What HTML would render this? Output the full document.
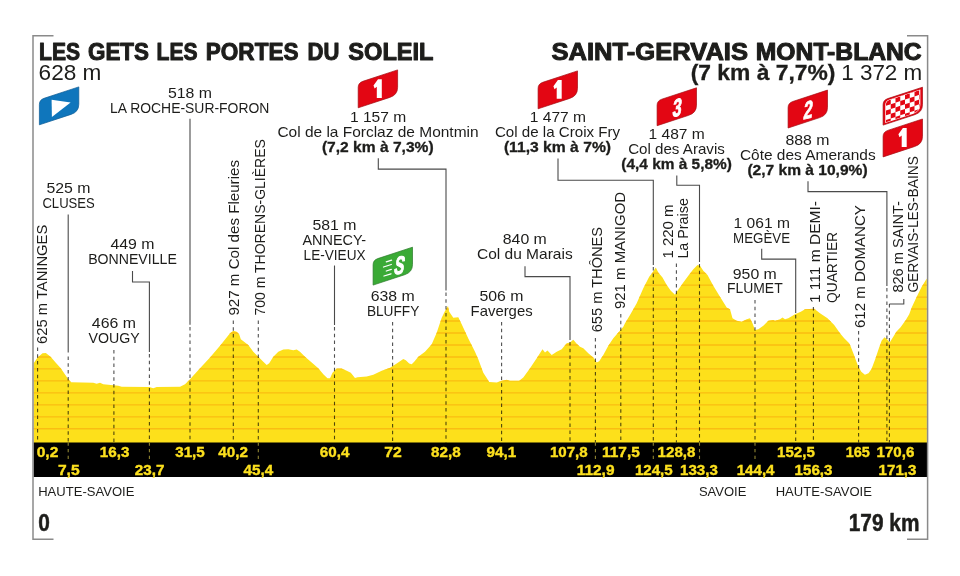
<!DOCTYPE html>
<html><head><meta charset="utf-8"><title>Stage profile</title>
<style>html,body{margin:0;padding:0;background:#fff}svg{display:block}text{font-family:"Liberation Sans",sans-serif;fill:#1d1d1b}.b{font-weight:bold;stroke:#1d1d1b;stroke-width:0.3}.xb{font-weight:bold;stroke:#1d1d1b;stroke-width:1.0;stroke-linejoin:round}.km{font-weight:bold;fill:#fce01e;font-size:14.5px;stroke:#fce01e;stroke-width:0.35}.l{stroke:#4a4a4a;stroke-width:1.1;fill:none}.d{stroke:#505050;stroke-width:1.1;fill:none;stroke-dasharray:3.5 3.3;mix-blend-mode:multiply}</style></head><body>
<svg width="960" height="576" viewBox="0 0 960 576">
<rect width="960" height="576" fill="#fff"/>
<defs><clipPath id="cp"><polygon points="33.7,363.3 37.5,357.5 42.5,353.3 45.8,353.0 50.0,356.2 51.7,357.9 56.0,363.0 60.8,368.3 64.5,373.7 68.3,379.2 71.2,382.3 93.3,382.7 96.7,383.7 100.0,382.7 103.3,384.2 113.3,385.3 118.3,385.8 121.7,386.7 149.2,387.0 153.3,388.3 156.7,387.0 180.0,386.7 185.0,384.2 190.0,379.2 200.0,368.3 210.0,357.5 220.0,345.8 230.0,333.3 233.3,330.8 236.7,331.7 239.2,334.2 240.8,339.2 248.3,345.0 253.3,351.7 258.3,356.7 263.3,361.7 266.7,365.0 269.2,363.3 273.3,356.7 278.3,351.7 283.3,349.5 288.3,349.2 293.3,350.3 296.7,349.5 300.0,351.7 305.0,356.7 311.7,362.5 318.3,368.3 323.3,374.2 327.5,378.3 330.0,378.3 332.5,372.7 336.7,368.5 341.7,368.5 346.7,370.7 350.8,372.7 355.0,378.0 357.5,377.2 366.7,376.5 373.3,374.7 381.7,370.7 390.0,367.7 396.7,363.5 403.3,359.0 405.8,360.2 409.2,363.5 411.7,364.3 414.2,361.8 418.3,356.8 425.0,351.8 431.7,344.3 436.7,332.7 441.7,317.7 445.0,311.0 448.0,306.0 449.2,311.8 453.3,317.7 458.3,317.3 461.7,324.3 468.3,338.5 475.0,351.8 478.3,359.3 483.3,372.7 487.5,379.3 489.2,382.0 496.7,382.5 501.7,380.8 506.7,379.7 510.0,380.8 519.2,380.8 523.3,377.5 530.0,368.3 536.7,358.3 542.5,349.2 545.0,352.5 547.5,350.5 551.7,355.0 556.7,351.7 561.7,349.2 566.7,343.3 570.0,342.5 573.3,339.7 576.7,343.7 580.0,346.7 583.3,348.3 588.3,353.3 593.3,357.5 596.7,362.5 599.2,361.3 603.3,355.0 608.3,345.8 613.3,338.3 618.3,332.5 623.3,326.7 625.0,323.3 630.0,315.0 636.7,303.3 643.3,288.3 649.2,276.7 652.5,272.5 655.8,267.5 658.3,272.5 662.5,277.5 666.7,285.0 670.8,290.8 675.0,294.7 677.5,290.8 683.3,282.5 688.3,275.8 693.3,269.2 697.5,265.0 700.0,265.8 703.3,270.8 707.5,275.0 713.3,285.8 720.0,296.7 726.7,307.5 730.0,309.2 732.5,318.3 736.7,320.8 741.7,321.7 746.7,319.2 750.0,318.3 752.5,323.3 755.0,330.0 758.3,329.2 763.3,325.8 768.3,320.8 773.3,320.0 775.0,320.8 780.0,319.2 782.5,317.5 785.0,319.2 788.3,318.3 795.0,314.2 800.8,311.7 805.0,309.2 814.2,308.8 820.0,313.3 827.5,318.3 834.2,325.0 840.0,333.3 844.2,338.3 849.2,343.3 850.3,345.5 854.0,355.0 858.3,366.7 861.3,371.8 864.9,374.7 868.5,373.2 871.5,368.9 875.1,359.4 878.8,348.4 881.7,340.4 884.6,337.2 887.5,339.7 889.7,342.6 893.3,336.8 896.3,331.7 900.6,327.3 905.8,320.0 909.2,314.2 911.7,307.5 916.7,296.7 921.7,286.7 926.8,278.5 926.9,443.5 33.7,443.5"/></clipPath></defs>
<polygon points="33.7,363.3 37.5,357.5 42.5,353.3 45.8,353.0 50.0,356.2 51.7,357.9 56.0,363.0 60.8,368.3 64.5,373.7 68.3,379.2 71.2,382.3 93.3,382.7 96.7,383.7 100.0,382.7 103.3,384.2 113.3,385.3 118.3,385.8 121.7,386.7 149.2,387.0 153.3,388.3 156.7,387.0 180.0,386.7 185.0,384.2 190.0,379.2 200.0,368.3 210.0,357.5 220.0,345.8 230.0,333.3 233.3,330.8 236.7,331.7 239.2,334.2 240.8,339.2 248.3,345.0 253.3,351.7 258.3,356.7 263.3,361.7 266.7,365.0 269.2,363.3 273.3,356.7 278.3,351.7 283.3,349.5 288.3,349.2 293.3,350.3 296.7,349.5 300.0,351.7 305.0,356.7 311.7,362.5 318.3,368.3 323.3,374.2 327.5,378.3 330.0,378.3 332.5,372.7 336.7,368.5 341.7,368.5 346.7,370.7 350.8,372.7 355.0,378.0 357.5,377.2 366.7,376.5 373.3,374.7 381.7,370.7 390.0,367.7 396.7,363.5 403.3,359.0 405.8,360.2 409.2,363.5 411.7,364.3 414.2,361.8 418.3,356.8 425.0,351.8 431.7,344.3 436.7,332.7 441.7,317.7 445.0,311.0 448.0,306.0 449.2,311.8 453.3,317.7 458.3,317.3 461.7,324.3 468.3,338.5 475.0,351.8 478.3,359.3 483.3,372.7 487.5,379.3 489.2,382.0 496.7,382.5 501.7,380.8 506.7,379.7 510.0,380.8 519.2,380.8 523.3,377.5 530.0,368.3 536.7,358.3 542.5,349.2 545.0,352.5 547.5,350.5 551.7,355.0 556.7,351.7 561.7,349.2 566.7,343.3 570.0,342.5 573.3,339.7 576.7,343.7 580.0,346.7 583.3,348.3 588.3,353.3 593.3,357.5 596.7,362.5 599.2,361.3 603.3,355.0 608.3,345.8 613.3,338.3 618.3,332.5 623.3,326.7 625.0,323.3 630.0,315.0 636.7,303.3 643.3,288.3 649.2,276.7 652.5,272.5 655.8,267.5 658.3,272.5 662.5,277.5 666.7,285.0 670.8,290.8 675.0,294.7 677.5,290.8 683.3,282.5 688.3,275.8 693.3,269.2 697.5,265.0 700.0,265.8 703.3,270.8 707.5,275.0 713.3,285.8 720.0,296.7 726.7,307.5 730.0,309.2 732.5,318.3 736.7,320.8 741.7,321.7 746.7,319.2 750.0,318.3 752.5,323.3 755.0,330.0 758.3,329.2 763.3,325.8 768.3,320.8 773.3,320.0 775.0,320.8 780.0,319.2 782.5,317.5 785.0,319.2 788.3,318.3 795.0,314.2 800.8,311.7 805.0,309.2 814.2,308.8 820.0,313.3 827.5,318.3 834.2,325.0 840.0,333.3 844.2,338.3 849.2,343.3 850.3,345.5 854.0,355.0 858.3,366.7 861.3,371.8 864.9,374.7 868.5,373.2 871.5,368.9 875.1,359.4 878.8,348.4 881.7,340.4 884.6,337.2 887.5,339.7 889.7,342.6 893.3,336.8 896.3,331.7 900.6,327.3 905.8,320.0 909.2,314.2 911.7,307.5 916.7,296.7 921.7,286.7 926.8,278.5 926.9,443.5 33.7,443.5" fill="#fde01b"/>
<g clip-path="url(#cp)" stroke="#fabd12" stroke-width="1.4">
<line x1="30" x2="930" y1="273.1" y2="273.1"/>
<line x1="30" x2="930" y1="285.1" y2="285.1"/>
<line x1="30" x2="930" y1="297.1" y2="297.1"/>
<line x1="30" x2="930" y1="309.0" y2="309.0"/>
<line x1="30" x2="930" y1="321.0" y2="321.0"/>
<line x1="30" x2="930" y1="333.0" y2="333.0"/>
<line x1="30" x2="930" y1="345.0" y2="345.0"/>
<line x1="30" x2="930" y1="357.0" y2="357.0"/>
<line x1="30" x2="930" y1="368.9" y2="368.9"/>
<line x1="30" x2="930" y1="380.9" y2="380.9"/>
<line x1="30" x2="930" y1="392.9" y2="392.9"/>
<line x1="30" x2="930" y1="404.9" y2="404.9"/>
<line x1="30" x2="930" y1="416.9" y2="416.9"/>
<line x1="30" x2="930" y1="428.8" y2="428.8"/>
</g>
<rect x="33.6" y="442.5" width="893.6" height="34.5" fill="#000"/>
<g stroke="#8a8a8a" stroke-width="1.5" fill="none">
<polyline points="53.5,35.7 33,35.7 33,539.3 53.5,539.3"/>
<polyline points="907,35.7 927.6,35.7 927.6,539.3 907,539.3"/>
</g>
<path class="d" d="M37.6,347.5 V442.5"/>
<path class="l" d="M68.2,214.5 V352.5"/>
<path class="d" d="M68.2,356.5 V442.5"/>
<path d="M68.2,442.5 V459.0" stroke="#8f8432" stroke-width="1.1" stroke-dasharray="3.2 3.4" fill="none"/>
<path class="d" d="M113.9,350.0 V442.5"/>
<path class="l" d="M132.5,271 V282 H149.4 V352"/>
<path class="d" d="M149.4,354.0 V442.5"/>
<path d="M149.4,442.5 V459.0" stroke="#8f8432" stroke-width="1.1" stroke-dasharray="3.2 3.4" fill="none"/>
<path class="l" d="M190,118.8 V324.7"/>
<path class="d" d="M190.0,327.0 V442.5"/>
<path class="d" d="M233.3,320.5 V442.5"/>
<path class="d" d="M258.3,320.5 V442.5"/>
<path d="M258.3,442.5 V459.0" stroke="#8f8432" stroke-width="1.1" stroke-dasharray="3.2 3.4" fill="none"/>
<path class="l" d="M334.5,265.5 V325"/>
<path class="d" d="M334.5,327.0 V442.5"/>
<path class="d" d="M392.6,322.0 V442.5"/>
<path class="l" d="M378.3,158.3 V169.1 H446 V290.5"/>
<path class="d" d="M446.0,292.5 V442.5"/>
<path class="d" d="M501.6,322.0 V442.5"/>
<path class="l" d="M525,266.3 V276.6 H570 V340"/>
<path class="d" d="M570.0,342.0 V442.5"/>
<path class="d" d="M595.4,338.0 V442.5"/>
<path d="M595.4,442.5 V459.0" stroke="#8f8432" stroke-width="1.1" stroke-dasharray="3.2 3.4" fill="none"/>
<path class="d" d="M620.8,314.0 V442.5"/>
<path class="l" d="M558,158.5 V180.3 H653.3 V265"/>
<path class="d" d="M653.3,267.0 V442.5"/>
<path d="M653.3,442.5 V459.0" stroke="#8f8432" stroke-width="1.1" stroke-dasharray="3.2 3.4" fill="none"/>
<path class="d" d="M676.4,263.5 V442.5"/>
<path class="l" d="M676.8,175.5 V185.3 H699.5 V262"/>
<path class="d" d="M699.5,264.0 V442.5"/>
<path d="M699.5,442.5 V459.0" stroke="#8f8432" stroke-width="1.1" stroke-dasharray="3.2 3.4" fill="none"/>
<path class="d" d="M755.0,300.0 V442.5"/>
<path d="M755.0,442.5 V459.0" stroke="#8f8432" stroke-width="1.1" stroke-dasharray="3.2 3.4" fill="none"/>
<path class="l" d="M761.7,248.8 V259.1 H795.7 V313"/>
<path class="d" d="M795.7,315.0 V442.5"/>
<path class="d" d="M813.4,307.0 V442.5"/>
<path class="d" d="M858.6,331.0 V442.5"/>
<path class="l" d="M808,181.3 V191.6 H886.9 V286"/>
<path class="d" d="M886.9,288.0 V442.5"/>
<path class="l" d="M903.8,299 V304 H889.4"/>
<path class="d" d="M889.4,304.0 V442.5"/>
<text x="39.00" y="59.60" font-size="23.6" textLength="41.00" lengthAdjust="spacingAndGlyphs" class="xb">LES</text>
<text x="88.00" y="59.60" font-size="23.6" textLength="61.00" lengthAdjust="spacingAndGlyphs" class="xb">GETS</text>
<text x="156.50" y="59.60" font-size="23.6" textLength="41.00" lengthAdjust="spacingAndGlyphs" class="xb">LES</text>
<text x="205.80" y="59.60" font-size="23.6" textLength="92.70" lengthAdjust="spacingAndGlyphs" class="xb">PORTES</text>
<text x="307.50" y="59.60" font-size="23.6" textLength="31.80" lengthAdjust="spacingAndGlyphs" class="xb">DU</text>
<text x="348.30" y="59.60" font-size="23.6" textLength="85.20" lengthAdjust="spacingAndGlyphs" class="xb">SOLEIL</text>
<text x="38.60" y="79.70" font-size="21.4" textLength="62.80" lengthAdjust="spacingAndGlyphs">628 m</text>
<text x="551.50" y="59.60" font-size="23.6" textLength="196.50" lengthAdjust="spacingAndGlyphs" class="xb">SAINT-GERVAIS</text>
<text x="755.80" y="59.60" font-size="23.6" textLength="165.90" lengthAdjust="spacingAndGlyphs" class="xb">MONT-BLANC</text>
<text x="690.65" y="79.50" font-size="21.4" textLength="144.70" lengthAdjust="spacingAndGlyphs" class="b">(7 km à 7,7%)</text>
<text x="841.20" y="79.50" font-size="21.4" textLength="81.10" lengthAdjust="spacingAndGlyphs">1 372 m</text>
<text x="167.97" y="98.00" font-size="14.5" textLength="44.05" lengthAdjust="spacingAndGlyphs">518 m</text>
<text x="110.00" y="113.00" font-size="14.5" textLength="159.40" lengthAdjust="spacingAndGlyphs">LA ROCHE-SUR-FORON</text>
<text x="46.47" y="192.80" font-size="14.5" textLength="44.05" lengthAdjust="spacingAndGlyphs">525 m</text>
<text x="42.40" y="207.90" font-size="14.5" textLength="52.40" lengthAdjust="spacingAndGlyphs">CLUSES</text>
<text x="110.47" y="249.30" font-size="14.5" textLength="44.05" lengthAdjust="spacingAndGlyphs">449 m</text>
<text x="88.15" y="264.30" font-size="14.5" textLength="88.70" lengthAdjust="spacingAndGlyphs">BONNEVILLE</text>
<text x="91.87" y="328.00" font-size="14.5" textLength="44.05" lengthAdjust="spacingAndGlyphs">466 m</text>
<text x="88.50" y="342.80" font-size="14.5" textLength="51.20" lengthAdjust="spacingAndGlyphs">VOUGY</text>
<text x="349.94" y="121.80" font-size="14.5" textLength="56.32" lengthAdjust="spacingAndGlyphs">1 157 m</text>
<text x="277.40" y="136.80" font-size="14.5" textLength="201.20" lengthAdjust="spacingAndGlyphs">Col de la Forclaz de Montmin</text>
<text x="321.95" y="151.80" font-size="14.5" textLength="111.70" lengthAdjust="spacingAndGlyphs" class="b">(7,2 km à 7,3%)</text>
<text x="312.47" y="230.00" font-size="14.5" textLength="44.05" lengthAdjust="spacingAndGlyphs">581 m</text>
<text x="302.45" y="245.00" font-size="14.5" textLength="63.70" lengthAdjust="spacingAndGlyphs">ANNECY-</text>
<text x="303.60" y="260.00" font-size="14.5" textLength="62.00" lengthAdjust="spacingAndGlyphs">LE-VIEUX</text>
<text x="370.67" y="301.00" font-size="14.5" textLength="44.05" lengthAdjust="spacingAndGlyphs">638 m</text>
<text x="366.90" y="316.00" font-size="14.5" textLength="52.40" lengthAdjust="spacingAndGlyphs">BLUFFY</text>
<text x="479.47" y="301.00" font-size="14.5" textLength="44.05" lengthAdjust="spacingAndGlyphs">506 m</text>
<text x="470.60" y="315.80" font-size="14.5" textLength="62.00" lengthAdjust="spacingAndGlyphs">Faverges</text>
<text x="502.77" y="244.30" font-size="14.5" textLength="44.05" lengthAdjust="spacingAndGlyphs">840 m</text>
<text x="476.95" y="259.30" font-size="14.5" textLength="95.70" lengthAdjust="spacingAndGlyphs">Col du Marais</text>
<text x="529.74" y="121.80" font-size="14.5" textLength="56.32" lengthAdjust="spacingAndGlyphs">1 477 m</text>
<text x="494.90" y="136.80" font-size="14.5" textLength="125.20" lengthAdjust="spacingAndGlyphs">Col de la Croix Fry</text>
<text x="503.90" y="151.80" font-size="14.5" textLength="107.20" lengthAdjust="spacingAndGlyphs" class="b">(11,3 km à 7%)</text>
<text x="648.54" y="138.50" font-size="14.5" textLength="56.32" lengthAdjust="spacingAndGlyphs">1 487 m</text>
<text x="628.15" y="153.50" font-size="14.5" textLength="96.70" lengthAdjust="spacingAndGlyphs">Col des Aravis</text>
<text x="621.35" y="169.30" font-size="14.5" textLength="110.50" lengthAdjust="spacingAndGlyphs" class="b">(4,4 km à 5,8%)</text>
<text x="785.47" y="144.80" font-size="14.5" textLength="44.05" lengthAdjust="spacingAndGlyphs">888 m</text>
<text x="739.95" y="159.80" font-size="14.5" textLength="135.70" lengthAdjust="spacingAndGlyphs">Côte des Amerands</text>
<text x="747.40" y="175.00" font-size="14.5" textLength="120.20" lengthAdjust="spacingAndGlyphs" class="b">(2,7 km à 10,9%)</text>
<text x="733.64" y="227.50" font-size="14.5" textLength="56.32" lengthAdjust="spacingAndGlyphs">1 061 m</text>
<text x="733.10" y="242.50" font-size="14.5" textLength="57.00" lengthAdjust="spacingAndGlyphs">MEGÈVE</text>
<text x="732.77" y="278.50" font-size="14.5" textLength="44.05" lengthAdjust="spacingAndGlyphs">950 m</text>
<text x="726.95" y="293.00" font-size="14.5" textLength="55.70" lengthAdjust="spacingAndGlyphs">FLUMET</text>
<text transform="translate(47.10,343.90) rotate(-90)" font-size="14.5" textLength="119.20" lengthAdjust="spacingAndGlyphs">625 m TANINGES</text>
<text transform="translate(238.80,315.60) rotate(-90)" font-size="14.5" textLength="155.60" lengthAdjust="spacingAndGlyphs">927 m Col des Fleuries</text>
<text transform="translate(264.80,315.60) rotate(-90)" font-size="14.5" textLength="176.50" lengthAdjust="spacingAndGlyphs">700 m THORENS-GLIÈRES</text>
<text transform="translate(602.00,332.30) rotate(-90)" font-size="14.5" textLength="105.40" lengthAdjust="spacingAndGlyphs">655 m THÔNES</text>
<text transform="translate(625.40,309.10) rotate(-90)" font-size="14.5" textLength="117.20" lengthAdjust="spacingAndGlyphs">921 m MANIGOD</text>
<text transform="translate(672.50,258.60) rotate(-90)" font-size="14.5" textLength="54.20" lengthAdjust="spacingAndGlyphs">1 220 m</text>
<text transform="translate(688.00,258.60) rotate(-90)" font-size="14.5" textLength="60.50" lengthAdjust="spacingAndGlyphs">La Praise</text>
<text transform="translate(819.50,303.10) rotate(-90)" font-size="14.5" textLength="102.00" lengthAdjust="spacingAndGlyphs">1 111 m DEMI-</text>
<text transform="translate(836.80,303.10) rotate(-90)" font-size="14.5" textLength="71.20" lengthAdjust="spacingAndGlyphs">QUARTIER</text>
<text transform="translate(865.40,328.10) rotate(-90)" font-size="14.5" textLength="122.90" lengthAdjust="spacingAndGlyphs">612 m DOMANCY</text>
<text transform="translate(902.50,292.60) rotate(-90)" font-size="14.5" textLength="91.50" lengthAdjust="spacingAndGlyphs">826 m SAINT-</text>
<text transform="translate(918.00,292.60) rotate(-90)" font-size="14.5" textLength="136.50" lengthAdjust="spacingAndGlyphs">GERVAIS-LES-BAINS</text>
<text x="36.65" y="457.2" class="km" textLength="21.70" lengthAdjust="spacingAndGlyphs">0,2</text>
<text x="57.95" y="474.6" class="km" textLength="21.70" lengthAdjust="spacingAndGlyphs">7,5</text>
<text x="99.80" y="457.2" class="km" textLength="29.60" lengthAdjust="spacingAndGlyphs">16,3</text>
<text x="134.80" y="474.6" class="km" textLength="29.60" lengthAdjust="spacingAndGlyphs">23,7</text>
<text x="175.20" y="457.2" class="km" textLength="29.60" lengthAdjust="spacingAndGlyphs">31,5</text>
<text x="218.30" y="457.2" class="km" textLength="29.60" lengthAdjust="spacingAndGlyphs">40,2</text>
<text x="243.60" y="474.6" class="km" textLength="29.60" lengthAdjust="spacingAndGlyphs">45,4</text>
<text x="319.80" y="457.2" class="km" textLength="29.60" lengthAdjust="spacingAndGlyphs">60,4</text>
<text x="384.35" y="457.2" class="km" textLength="17.50" lengthAdjust="spacingAndGlyphs">72</text>
<text x="431.10" y="457.2" class="km" textLength="29.60" lengthAdjust="spacingAndGlyphs">82,8</text>
<text x="486.50" y="457.2" class="km" textLength="29.60" lengthAdjust="spacingAndGlyphs">94,1</text>
<text x="549.90" y="457.2" class="km" textLength="37.80" lengthAdjust="spacingAndGlyphs">107,8</text>
<text x="576.70" y="474.6" class="km" textLength="37.80" lengthAdjust="spacingAndGlyphs">112,9</text>
<text x="602.00" y="457.2" class="km" textLength="37.80" lengthAdjust="spacingAndGlyphs">117,5</text>
<text x="634.90" y="474.6" class="km" textLength="37.80" lengthAdjust="spacingAndGlyphs">124,5</text>
<text x="657.60" y="457.2" class="km" textLength="37.80" lengthAdjust="spacingAndGlyphs">128,8</text>
<text x="680.00" y="474.6" class="km" textLength="37.80" lengthAdjust="spacingAndGlyphs">133,3</text>
<text x="736.70" y="474.6" class="km" textLength="37.80" lengthAdjust="spacingAndGlyphs">144,4</text>
<text x="777.00" y="457.2" class="km" textLength="37.80" lengthAdjust="spacingAndGlyphs">152,5</text>
<text x="794.60" y="474.6" class="km" textLength="37.80" lengthAdjust="spacingAndGlyphs">156,3</text>
<text x="845.70" y="457.2" class="km" textLength="24.20" lengthAdjust="spacingAndGlyphs">165</text>
<text x="876.50" y="457.2" class="km" textLength="37.80" lengthAdjust="spacingAndGlyphs">170,6</text>
<text x="878.60" y="474.6" class="km" textLength="37.80" lengthAdjust="spacingAndGlyphs">171,3</text>
<text x="38.20" y="495.60" font-size="13.6" textLength="96.20" lengthAdjust="spacingAndGlyphs">HAUTE-SAVOIE</text>
<text x="698.90" y="495.60" font-size="13.6" textLength="47.50" lengthAdjust="spacingAndGlyphs">SAVOIE</text>
<text x="775.70" y="495.60" font-size="13.6" textLength="96.20" lengthAdjust="spacingAndGlyphs">HAUTE-SAVOIE</text>
<text x="38.2" y="530.6" font-size="23.6" class="xb" textLength="11.6" lengthAdjust="spacingAndGlyphs" style="stroke-width:0.5">0</text>
<text x="848.8" y="530.6" font-size="23.6" class="xb" textLength="70.6" lengthAdjust="spacingAndGlyphs" style="stroke-width:0.5">179 km</text>
<path transform="translate(39.4,86.9)" d="M39.4,0 V17.4 Q39.4,25 31.6,27.5 L0,37.9 V17.5 Q0,13 4.7,11.4 Z" fill="#0f76bc" stroke="#0b5a94" stroke-width="0.7"/>
<polygon points="51.6,99.8 70.6,102.4 51.9,117" fill="#fff"/>
<path transform="translate(358.2,69.9)" d="M39.4,0 V17.4 Q39.4,25 31.6,27.5 L0,37.9 V17.5 Q0,13 4.7,11.4 Z" fill="#e30613" stroke="#a30d12" stroke-width="0.7"/>
<polygon points="378.0,79.2 381.8,79.2 381.8,98.0 376.8,98.0 376.8,86.7 374.6,88.4 373.5,85.4" fill="#fff"/>
<path transform="translate(538.1,70.9)" d="M39.4,0 V17.4 Q39.4,25 31.6,27.5 L0,37.9 V17.5 Q0,13 4.7,11.4 Z" fill="#e30613" stroke="#a30d12" stroke-width="0.7"/>
<polygon points="557.9,80.0 561.7,80.0 561.7,98.8 556.7,98.8 556.7,87.5 554.5,89.2 553.4,86.2" fill="#fff"/>
<path transform="translate(657.1,87.8)" d="M39.4,0 V17.4 Q39.4,25 31.6,27.5 L0,37.9 V17.5 Q0,13 4.7,11.4 Z" fill="#e30613" stroke="#a30d12" stroke-width="0.7"/>
<text transform="translate(676.4,116.1) skewY(-14) skewX(-6) scale(0.66,1)" font-size="24.4" class="b" text-anchor="middle" style="fill:#fff;stroke:#fff;stroke-width:0.9;stroke-linejoin:round">3</text>
<path transform="translate(788.1,90.1)" d="M39.4,0 V17.4 Q39.4,25 31.6,27.5 L0,37.9 V17.5 Q0,13 4.7,11.4 Z" fill="#e30613" stroke="#a30d12" stroke-width="0.7"/>
<text transform="translate(807.4,118.4) skewY(-14) skewX(-6) scale(0.66,1)" font-size="24.4" class="b" text-anchor="middle" style="fill:#fff;stroke:#fff;stroke-width:0.9;stroke-linejoin:round">2</text>
<path transform="translate(883.1,119.0)" d="M39.4,0 V17.4 Q39.4,25 31.6,27.5 L0,37.9 V17.5 Q0,13 4.7,11.4 Z" fill="#e30613" stroke="#a30d12" stroke-width="0.7"/>
<polygon points="902.9,128.1 906.7,128.1 906.7,146.9 901.7,146.9 901.7,135.6 899.5,137.3 898.4,134.3" fill="#fff"/>
<g transform="translate(883.1,87.2)">
<path d="M39.4,0 V17.4 Q39.4,25 31.6,27.5 L0,37.9 V17.5 Q0,13 4.7,11.4 Z" fill="#e30613" stroke="#a30d12" stroke-width="0.7"/>
<path transform="translate(19.8,19.1) scale(0.89,0.885) translate(-19.8,-19.1)" d="M39.4,0 V17.4 Q39.4,25 31.6,27.5 L0,37.9 V17.5 Q0,13 4.7,11.4 Z" fill="#fff"/>
<defs><clipPath id="ck"><path transform="translate(19.8,19.1) scale(0.86,0.85) translate(-19.8,-19.1)" d="M39.4,0 V17.4 Q39.4,25 31.6,27.5 L0,37.9 V17.5 Q0,13 4.7,11.4 Z"/></clipPath></defs>
<g clip-path="url(#ck)"><g transform="matrix(1,-0.33,0,1,0,0)">
<rect x="2.90" y="-4.20" width="4.75" height="4.75" fill="#e30613"/>
<rect x="12.40" y="-4.20" width="4.75" height="4.75" fill="#e30613"/>
<rect x="21.90" y="-4.20" width="4.75" height="4.75" fill="#e30613"/>
<rect x="31.40" y="-4.20" width="4.75" height="4.75" fill="#e30613"/>
<rect x="40.90" y="-4.20" width="4.75" height="4.75" fill="#e30613"/>
<rect x="7.65" y="0.55" width="4.75" height="4.75" fill="#e30613"/>
<rect x="17.15" y="0.55" width="4.75" height="4.75" fill="#e30613"/>
<rect x="26.65" y="0.55" width="4.75" height="4.75" fill="#e30613"/>
<rect x="36.15" y="0.55" width="4.75" height="4.75" fill="#e30613"/>
<rect x="45.65" y="0.55" width="4.75" height="4.75" fill="#e30613"/>
<rect x="2.90" y="5.30" width="4.75" height="4.75" fill="#e30613"/>
<rect x="12.40" y="5.30" width="4.75" height="4.75" fill="#e30613"/>
<rect x="21.90" y="5.30" width="4.75" height="4.75" fill="#e30613"/>
<rect x="31.40" y="5.30" width="4.75" height="4.75" fill="#e30613"/>
<rect x="40.90" y="5.30" width="4.75" height="4.75" fill="#e30613"/>
<rect x="7.65" y="10.05" width="4.75" height="4.75" fill="#e30613"/>
<rect x="17.15" y="10.05" width="4.75" height="4.75" fill="#e30613"/>
<rect x="26.65" y="10.05" width="4.75" height="4.75" fill="#e30613"/>
<rect x="36.15" y="10.05" width="4.75" height="4.75" fill="#e30613"/>
<rect x="45.65" y="10.05" width="4.75" height="4.75" fill="#e30613"/>
<rect x="2.90" y="14.80" width="4.75" height="4.75" fill="#e30613"/>
<rect x="12.40" y="14.80" width="4.75" height="4.75" fill="#e30613"/>
<rect x="21.90" y="14.80" width="4.75" height="4.75" fill="#e30613"/>
<rect x="31.40" y="14.80" width="4.75" height="4.75" fill="#e30613"/>
<rect x="40.90" y="14.80" width="4.75" height="4.75" fill="#e30613"/>
<rect x="7.65" y="19.55" width="4.75" height="4.75" fill="#e30613"/>
<rect x="17.15" y="19.55" width="4.75" height="4.75" fill="#e30613"/>
<rect x="26.65" y="19.55" width="4.75" height="4.75" fill="#e30613"/>
<rect x="36.15" y="19.55" width="4.75" height="4.75" fill="#e30613"/>
<rect x="45.65" y="19.55" width="4.75" height="4.75" fill="#e30613"/>
<rect x="2.90" y="24.30" width="4.75" height="4.75" fill="#e30613"/>
<rect x="12.40" y="24.30" width="4.75" height="4.75" fill="#e30613"/>
<rect x="21.90" y="24.30" width="4.75" height="4.75" fill="#e30613"/>
<rect x="31.40" y="24.30" width="4.75" height="4.75" fill="#e30613"/>
<rect x="40.90" y="24.30" width="4.75" height="4.75" fill="#e30613"/>
<rect x="7.65" y="29.05" width="4.75" height="4.75" fill="#e30613"/>
<rect x="17.15" y="29.05" width="4.75" height="4.75" fill="#e30613"/>
<rect x="26.65" y="29.05" width="4.75" height="4.75" fill="#e30613"/>
<rect x="36.15" y="29.05" width="4.75" height="4.75" fill="#e30613"/>
<rect x="45.65" y="29.05" width="4.75" height="4.75" fill="#e30613"/>
<rect x="2.90" y="33.80" width="4.75" height="4.75" fill="#e30613"/>
<rect x="12.40" y="33.80" width="4.75" height="4.75" fill="#e30613"/>
<rect x="21.90" y="33.80" width="4.75" height="4.75" fill="#e30613"/>
<rect x="31.40" y="33.80" width="4.75" height="4.75" fill="#e30613"/>
<rect x="40.90" y="33.80" width="4.75" height="4.75" fill="#e30613"/>
<rect x="7.65" y="38.55" width="4.75" height="4.75" fill="#e30613"/>
<rect x="17.15" y="38.55" width="4.75" height="4.75" fill="#e30613"/>
<rect x="26.65" y="38.55" width="4.75" height="4.75" fill="#e30613"/>
<rect x="36.15" y="38.55" width="4.75" height="4.75" fill="#e30613"/>
<rect x="45.65" y="38.55" width="4.75" height="4.75" fill="#e30613"/>
<rect x="2.90" y="43.30" width="4.75" height="4.75" fill="#e30613"/>
<rect x="12.40" y="43.30" width="4.75" height="4.75" fill="#e30613"/>
<rect x="21.90" y="43.30" width="4.75" height="4.75" fill="#e30613"/>
<rect x="31.40" y="43.30" width="4.75" height="4.75" fill="#e30613"/>
<rect x="40.90" y="43.30" width="4.75" height="4.75" fill="#e30613"/>
<rect x="7.65" y="48.05" width="4.75" height="4.75" fill="#e30613"/>
<rect x="17.15" y="48.05" width="4.75" height="4.75" fill="#e30613"/>
<rect x="26.65" y="48.05" width="4.75" height="4.75" fill="#e30613"/>
<rect x="36.15" y="48.05" width="4.75" height="4.75" fill="#e30613"/>
<rect x="45.65" y="48.05" width="4.75" height="4.75" fill="#e30613"/>
<rect x="2.90" y="52.80" width="4.75" height="4.75" fill="#e30613"/>
<rect x="12.40" y="52.80" width="4.75" height="4.75" fill="#e30613"/>
<rect x="21.90" y="52.80" width="4.75" height="4.75" fill="#e30613"/>
<rect x="31.40" y="52.80" width="4.75" height="4.75" fill="#e30613"/>
<rect x="40.90" y="52.80" width="4.75" height="4.75" fill="#e30613"/>
<rect x="7.65" y="57.55" width="4.75" height="4.75" fill="#e30613"/>
<rect x="17.15" y="57.55" width="4.75" height="4.75" fill="#e30613"/>
<rect x="26.65" y="57.55" width="4.75" height="4.75" fill="#e30613"/>
<rect x="36.15" y="57.55" width="4.75" height="4.75" fill="#e30613"/>
<rect x="45.65" y="57.55" width="4.75" height="4.75" fill="#e30613"/>
</g></g></g>
<path transform="translate(373.1,247.2)" d="M39.4,0 V17.4 Q39.4,25 31.6,27.5 L0,37.9 V17.5 Q0,13 4.7,11.4 Z" fill="#3aaa35" stroke="#2a7a2a" stroke-width="0.7"/>
<text transform="translate(398.2,273.7) skewX(-11) scale(0.57,1)" font-size="25.5" class="b" text-anchor="middle" style="fill:#fff;stroke:#fff;stroke-width:1.1;stroke-linejoin:round">S</text>
<g stroke="#fff" stroke-width="1.3" stroke-linecap="round">
<line x1="386.3" y1="261.9" x2="391.6" y2="260.2"/>
<line x1="383.5" y1="267.0" x2="391.3" y2="264.5"/>
<line x1="386.3" y1="271.0" x2="391.3" y2="269.4"/>
<line x1="384.0" y1="276.0" x2="391.0" y2="273.8"/>
</g>
</svg></body></html>
